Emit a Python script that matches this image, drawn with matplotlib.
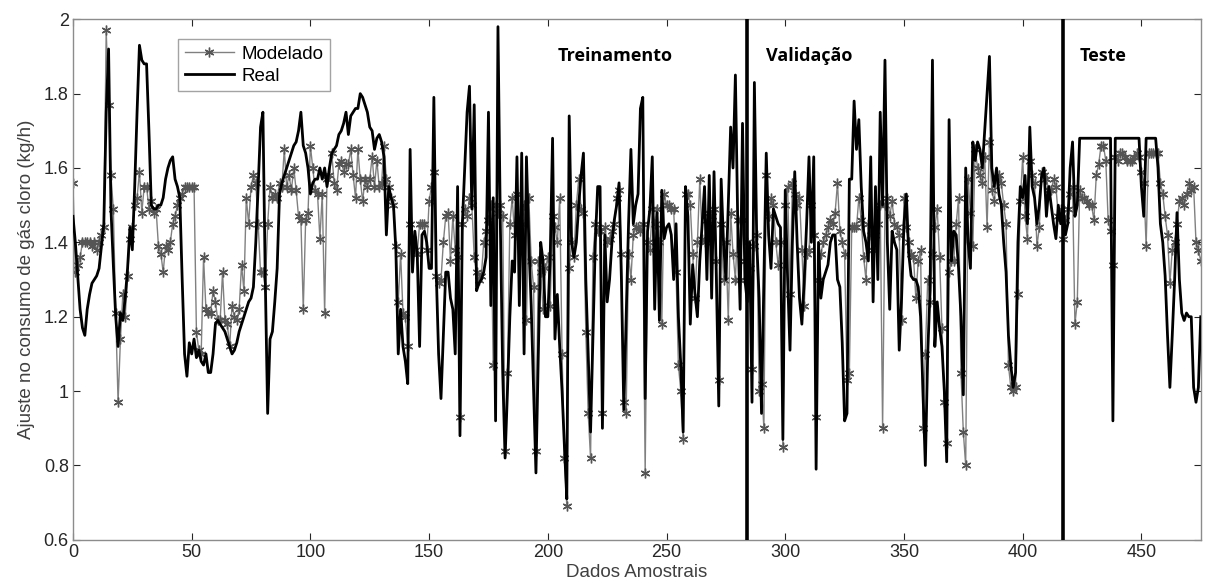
import numpy as np
import matplotlib
matplotlib.use("Agg")
import matplotlib.pyplot as plt
from matplotlib.ticker import FuncFormatter

# Real chlorine gas consumption adjustment (kg/h), one value per sample 0..475
real = [
    1.47, 1.40, 1.31, 1.22, 1.17, 1.15, 1.22, 1.26, 1.29, 1.30,
    1.31, 1.33, 1.39, 1.45, 1.75, 1.92, 1.49, 1.34, 1.20, 1.12,
    1.21, 1.19, 1.25, 1.33, 1.44, 1.38, 1.55, 1.75, 1.93, 1.89,
    1.88, 1.88, 1.70, 1.50, 1.49, 1.49, 1.50, 1.50, 1.52, 1.57,
    1.60, 1.62, 1.63, 1.57, 1.55, 1.52, 1.30, 1.10, 1.04, 1.13,
    1.10, 1.14, 1.09, 1.11, 1.08, 1.07, 1.10, 1.05, 1.05, 1.10,
    1.18, 1.19, 1.18, 1.17, 1.16, 1.14, 1.12, 1.10, 1.11, 1.13,
    1.16, 1.18, 1.20, 1.22, 1.24, 1.25, 1.28, 1.40, 1.55, 1.71,
    1.75, 1.30, 0.94, 1.14, 1.16, 1.24, 1.33, 1.53, 1.56, 1.58,
    1.60, 1.62, 1.64, 1.66, 1.67, 1.70, 1.75, 1.66, 1.64, 1.60,
    1.53, 1.56, 1.57, 1.57, 1.60, 1.57, 1.60, 1.55, 1.60, 1.64,
    1.65, 1.66, 1.69, 1.70, 1.72, 1.75, 1.69, 1.74, 1.75, 1.76,
    1.76, 1.80, 1.79, 1.77, 1.75, 1.71, 1.70, 1.65, 1.68, 1.69,
    1.67, 1.63, 1.42, 1.55, 1.52, 1.50, 1.38, 1.10, 1.22, 1.12,
    1.08, 1.02, 1.65, 1.32, 1.43, 1.37, 1.12, 1.42, 1.43, 1.40,
    1.33, 1.33, 1.79, 1.32, 1.10, 0.98, 1.15, 1.32, 1.32, 1.25,
    1.22, 1.10, 1.55, 0.88, 1.45, 1.60, 1.75, 1.82, 1.49, 1.77,
    1.27, 1.29, 1.30, 1.32, 1.36, 1.75, 1.23, 1.52, 0.92, 1.98,
    1.45, 1.05, 0.82, 1.00, 1.20, 1.35, 1.32, 1.63, 1.23, 1.64,
    1.10, 1.63, 1.40, 1.23, 1.00, 0.78, 1.10, 1.40, 1.35, 1.20,
    1.20, 1.36, 1.68, 1.14, 1.26, 1.12, 1.00, 0.85, 0.71, 1.74,
    1.40, 1.36, 1.40, 1.50, 1.58, 1.64, 1.30, 1.10, 0.89, 1.15,
    1.40, 1.55, 1.55, 0.90, 1.42, 1.24, 1.30, 1.40, 1.46, 1.50,
    1.56, 1.30, 0.95, 1.20, 1.45, 1.65, 1.45, 1.50, 1.53, 1.76,
    1.79, 0.98, 1.43, 1.49, 1.63, 1.22, 1.48, 1.19, 1.54, 1.41,
    1.44, 1.45, 1.42, 1.30, 1.45, 1.20, 1.07, 0.89, 1.55, 1.47,
    1.18, 1.34, 1.26, 1.20, 1.35, 1.45, 1.55, 1.30, 1.58, 1.25,
    1.59, 1.30, 0.96, 1.57, 1.40, 1.30, 1.50, 1.71, 1.60, 1.85,
    1.45, 1.22, 1.72, 1.30, 1.24, 1.40, 0.97, 1.83, 1.40, 1.25,
    0.94, 1.30, 1.64, 1.42, 1.33, 1.49, 1.47, 1.45, 1.44, 0.87,
    1.54, 1.30, 1.11, 1.40, 1.59, 1.40, 1.25, 1.18, 1.30, 1.45,
    1.63, 1.40, 1.63, 0.79, 1.40, 1.25, 1.30, 1.32, 1.34, 1.40,
    1.42, 1.42, 1.30, 1.28, 1.13, 0.92, 0.94, 1.57, 1.57, 1.78,
    1.65, 1.73, 1.55, 1.43, 1.40, 1.35, 1.63, 1.24, 1.55, 1.30,
    1.75, 1.50, 1.89, 1.40, 1.22, 1.43, 1.40, 1.38, 1.11, 1.25,
    1.45, 1.53, 1.37, 1.31, 1.30, 1.30, 1.28, 1.20, 1.00, 0.80,
    1.10, 1.27, 1.89, 1.12, 1.24, 1.17, 1.12, 1.00, 0.81, 1.73,
    1.35, 1.43, 1.42, 1.33, 1.20, 0.99, 1.60, 1.40, 1.33, 1.67,
    1.62, 1.67, 1.65, 1.60, 1.70, 1.80, 1.90, 1.60, 1.55, 1.60,
    1.53, 1.50, 1.40, 1.32, 1.15, 1.07, 1.01, 1.05, 1.40, 1.55,
    1.52, 1.58, 1.45, 1.71, 1.55, 1.52, 1.45, 1.50, 1.58, 1.60,
    1.47, 1.55, 1.50, 1.45, 1.41, 1.50, 1.45, 1.50, 1.42, 1.45,
    1.60, 1.67, 1.47, 1.50, 1.68, 1.68, 1.68, 1.68, 1.68, 1.68,
    1.68, 1.68, 1.68, 1.68, 1.68, 1.68, 1.68, 1.68, 0.92, 1.68,
    1.68, 1.68, 1.68, 1.68, 1.68, 1.68, 1.68, 1.68, 1.68, 1.68,
    1.55, 1.47, 1.68, 1.68, 1.68, 1.68, 1.68, 1.60, 1.45, 1.40,
    1.31, 1.15, 1.01, 1.15, 1.30, 1.48, 1.30, 1.21, 1.19, 1.21,
    1.20, 1.20, 1.01, 0.97, 1.01, 1.20,
]

# Modelled values, same samples
modelado = [
    1.56, 1.32, 1.34, 1.36, 1.40, 1.40, 1.40, 1.40, 1.39, 1.40,
    1.38, 1.40, 1.42, 1.44, 1.97, 1.77, 1.58, 1.49, 1.21, 0.97,
    1.14, 1.26, 1.20, 1.31, 1.41, 1.44, 1.50, 1.52, 1.59, 1.48,
    1.55, 1.55, 1.49, 1.51, 1.48, 1.49, 1.39, 1.37, 1.32, 1.39,
    1.38, 1.40, 1.45, 1.47, 1.50, 1.52, 1.53, 1.55, 1.55, 1.55,
    1.55, 1.55, 1.16, 1.11, 1.10, 1.36, 1.22, 1.21, 1.21, 1.27,
    1.24, 1.19, 1.19, 1.32, 1.19, 1.18, 1.12, 1.23, 1.20, 1.19,
    1.22, 1.34, 1.27, 1.52, 1.45, 1.55, 1.58, 1.56, 1.45, 1.32,
    1.32, 1.28, 1.45, 1.55, 1.52, 1.53, 1.52, 1.56, 1.55, 1.65,
    1.55, 1.58, 1.54, 1.60, 1.54, 1.47, 1.46, 1.22, 1.46, 1.48,
    1.66, 1.60, 1.54, 1.53, 1.41, 1.53, 1.21, 1.57, 1.58, 1.64,
    1.56, 1.54, 1.61, 1.62, 1.59, 1.61, 1.61, 1.65, 1.58, 1.52,
    1.65, 1.57, 1.51, 1.57, 1.55, 1.57, 1.63, 1.55, 1.62, 1.55,
    1.56, 1.66, 1.57, 1.55, 1.52, 1.50, 1.39, 1.24, 1.37, 1.21,
    1.20, 1.12, 1.45, 1.41, 1.38, 1.37, 1.45, 1.45, 1.45, 1.38,
    1.51, 1.55, 1.59, 1.31, 1.29, 1.30, 1.40, 1.47, 1.48, 1.35,
    1.47, 1.38, 1.36, 0.93, 1.45, 1.49, 1.47, 1.52, 1.50, 1.36,
    1.32, 1.30, 1.31, 1.40, 1.43, 1.46, 1.50, 1.07, 1.50, 1.48,
    1.50, 1.47, 0.84, 1.05, 1.45, 1.52, 1.42, 1.53, 1.43, 1.45,
    1.50, 1.19, 1.52, 1.35, 1.28, 0.84, 1.35, 1.32, 1.22, 1.33,
    1.36, 1.23, 1.47, 1.44, 1.40, 1.52, 1.10, 0.82, 0.69, 1.33,
    1.40, 1.36, 1.50, 1.57, 1.49, 1.48, 1.16, 0.94, 0.82, 1.36,
    1.45, 1.43, 1.43, 0.94, 1.44, 1.40, 1.41, 1.43, 1.45, 1.52,
    1.54, 1.37, 0.97, 0.94, 1.37, 1.30, 1.42, 1.44, 1.44, 1.43,
    1.45, 0.78, 1.40, 1.38, 1.49, 1.45, 1.49, 1.40, 1.18, 1.53,
    1.50, 1.50, 1.49, 1.49, 1.32, 1.07, 1.00, 0.87, 1.53, 1.53,
    1.50, 1.37, 1.25, 1.40, 1.57, 1.41, 1.40, 1.46, 1.48, 1.47,
    1.49, 1.35, 1.03, 1.45, 1.30, 1.40, 1.19, 1.48, 1.37, 1.30,
    1.46, 1.30, 1.46, 1.35, 1.40, 1.33, 1.06, 1.39, 1.42, 1.00,
    1.02, 0.90, 1.58, 1.47, 1.52, 1.50, 1.40, 1.34, 1.40, 0.85,
    1.50, 1.55, 1.26, 1.56, 1.53, 1.50, 1.52, 1.38, 1.23, 1.37,
    1.38, 1.50, 1.42, 0.93, 1.30, 1.37, 1.40, 1.42, 1.44, 1.46,
    1.45, 1.48, 1.56, 1.43, 1.40, 1.37, 1.03, 1.05, 1.44, 1.44,
    1.44, 1.52, 1.46, 1.36, 1.30, 1.45, 1.42, 1.38, 1.42, 1.45,
    1.50, 0.90, 1.50, 1.52, 1.47, 1.51, 1.45, 1.44, 1.42, 1.19,
    1.52, 1.44, 1.40, 1.37, 1.36, 1.25, 1.35, 1.38, 0.90, 1.10,
    1.30, 1.24, 1.37, 1.44, 1.49, 1.36, 1.17, 0.97, 0.86, 1.32,
    1.35, 1.35, 1.45, 1.52, 1.05, 0.89, 0.80, 1.57, 1.48, 1.39,
    1.65, 1.60, 1.58, 1.56, 1.63, 1.44, 1.67, 1.54, 1.51, 1.57,
    1.58, 1.56, 1.50, 1.45, 1.07, 1.01, 1.00, 1.01, 1.26, 1.51,
    1.63, 1.47, 1.41, 1.62, 1.58, 1.56, 1.39, 1.44, 1.59, 1.58,
    1.57, 1.54, 1.54, 1.57, 1.55, 1.47, 1.49, 1.41, 1.46, 1.49,
    1.53, 1.55, 1.18, 1.24, 1.54, 1.52, 1.52, 1.51, 1.50, 1.50,
    1.46, 1.58, 1.61, 1.66, 1.66, 1.62, 1.46, 1.43, 1.34, 1.63,
    1.62, 1.64, 1.64, 1.63, 1.62, 1.62, 1.62, 1.63, 1.64, 1.63,
    1.59, 1.56, 1.39, 1.64, 1.64, 1.64, 1.64, 1.64, 1.56, 1.53,
    1.47, 1.42, 1.29, 1.38, 1.40, 1.45, 1.51, 1.52, 1.50, 1.53,
    1.56, 1.54, 1.55, 1.40, 1.38, 1.35,
]

# split points between the data sets and their labels
divisoes = [284, 417]
secoes = ["Treinamento", "Validação", "Teste"]
secoes_x = [204, 292, 424]

x_ticks = [0, 50, 100, 150, 200, 250, 300, 350, 400, 450]
y_ticks = [0.6, 0.8, 1.0, 1.2, 1.4, 1.6, 1.8, 2.0]

plt.rcParams['font.family'] = ['Liberation Sans', 'DejaVu Sans']

amostras = np.arange(len(real))

fig = plt.figure(figsize=(12.08, 5.83), dpi=100)
ax = fig.add_axes([0.0604, 0.074, 0.9336, 0.893])

# MATLAB-like asterisk markers
ax.plot(amostras, modelado, color='#808080', linewidth=1.0, marker=(6, 2, 0),
        markersize=7, markerfacecolor='#555555', markeredgecolor='#555555',
        markeredgewidth=1.0, label='Modelado', zorder=2)
ax.plot(amostras, real, color='black', linewidth=2.0, label='Real', zorder=3)

for d in divisoes:
    ax.axvline(d, color='black', linewidth=2.6, zorder=4)

for nome, xs in zip(secoes, secoes_x):
    ax.text(xs, 1.9, nome, fontsize=13, fontweight='bold', family=['Open Sans', 'DejaVu Sans'],
            va='center', ha='left', color='black')

ax.set_xlim(0, 475)
ax.set_ylim(0.6, 2.0)
ax.set_xticks(x_ticks)
ax.set_yticks(y_ticks)
ax.yaxis.set_major_formatter(FuncFormatter(lambda v, p: f"{v:g}"))
ax.tick_params(direction='in', top=True, right=True, labelsize=13, colors='#262626',
               length=5, width=0.8, pad=3)
for sp in ax.spines.values():
    sp.set_color('#8c8c8c')
    sp.set_linewidth(1.0)

ax.set_xlabel('Dados Amostrais', fontsize=13.5, color='#404040', labelpad=2)
ax.set_ylabel('Ajuste no consumo de gás cloro (kg/h)', fontsize=13.5, color='#404040', labelpad=6)

leg = ax.legend(loc='upper left', bbox_to_anchor=(0.0935, 0.962), fontsize=13.5,
                frameon=True, fancybox=False, handlelength=2.6, borderpad=0.35,
                labelspacing=0.25, handletextpad=0.4, borderaxespad=0)
leg.get_frame().set_edgecolor('#8c8c8c')
leg.get_frame().set_linewidth(1.0)

fig.savefig('out.png', dpi=100)
